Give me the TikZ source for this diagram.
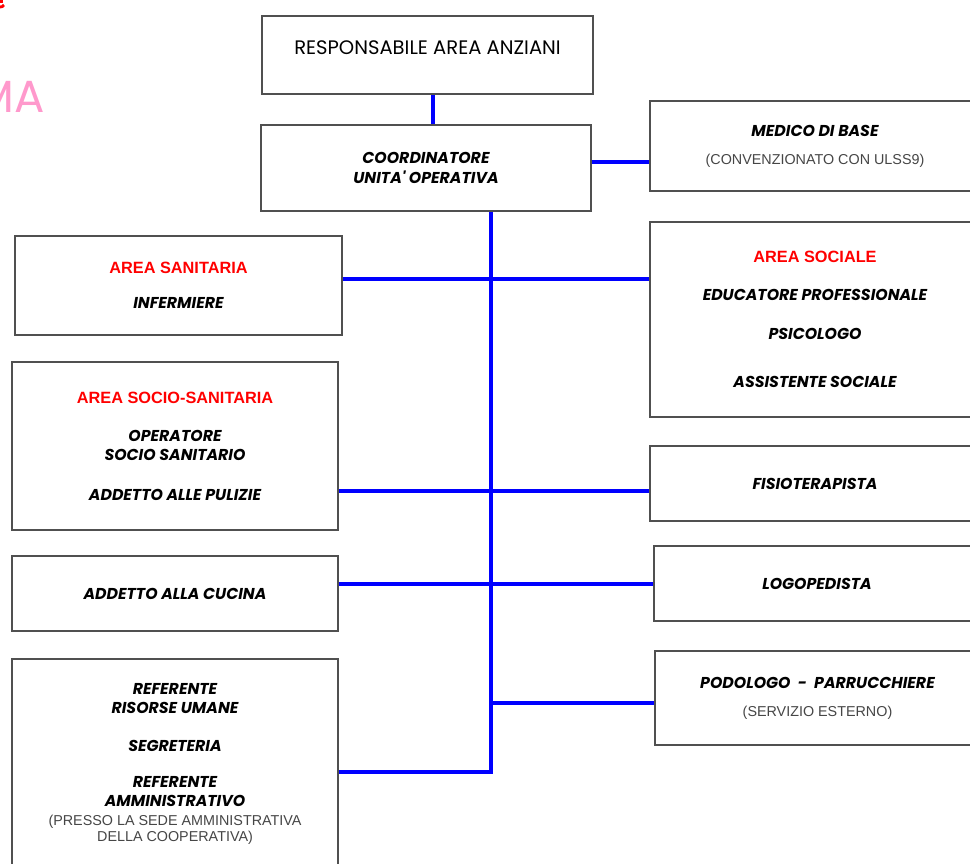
\documentclass[tikz,border=0pt]{standalone}
\usepackage{fontspec}
\setmainfont{Liberation Sans}
\newfontfamily\gothic{Poppins}
\usetikzlibrary{positioning}

\definecolor{linkblue}{RGB}{0,0,255}
\definecolor{boxgray}{RGB}{80,80,80}
\definecolor{notegray}{RGB}{70,70,70}
\definecolor{titlepink}{RGB}{255,153,204}

\newcommand{\ruolo}[1]{{\gothic\bfseries\itshape\fontsize{11.2}{14}\selectfont #1}}
\newcommand{\area}[1]{{\bfseries\color{red}\fontsize{11.6}{14}\selectfont #1}}
\newcommand{\nota}[1]{{\fontsize{10.2}{12}\selectfont\color{notegray}#1}}

\tikzset{
  box/.style={draw=boxgray, line width=0.9pt, fill=white, align=center, inner sep=0pt, font=\fontsize{10}{14}\selectfont},
  link/.style={draw=linkblue, line width=2.8pt},
}

\begin{document}
\begin{tikzpicture}[x=0.025cm, y=-0.025cm]
  \useasboundingbox (0,0) rectangle (970,863);

  % title fragments
  \node[text=titlepink, anchor=east, inner sep=0pt, font=\gothic\fontsize{32}{36}\selectfont] (titolo) at (45,97) {MA};
  \draw[red, line width=2pt] (0,1.5) -- (3,1.5);
  \draw[red, line width=2pt] (0,7) to[bend right] (4,5);

  % top
  \node[box, minimum width=8.275cm, minimum height=1.95cm, text depth=10pt] (resp) at (427.5,55) {\gothic\fontsize{13.9}{15}\selectfont RESPONSABILE AREA ANZIANI};
  \node[box, minimum width=8.25cm, minimum height=2.15cm] (coord) at (426,168) {\ruolo{COORDINATORE}\\\ruolo{UNITA' OPERATIVA}};

  % left column
  \node[box, minimum width=8.175cm, minimum height=2.475cm] (sanitaria) at (178.5,285.5) {\area{AREA SANITARIA}\\[11pt]\ruolo{INFERMIERE}};
  \node[box, minimum width=8.15cm, minimum height=4.2cm] (sociosan) at (175,446) {\area{AREA SOCIO-SANITARIA}\\[13pt]\ruolo{OPERATORE}\\\ruolo{SOCIO SANITARIO}\\[14pt]\ruolo{ADDETTO ALLE PULIZIE}};
  \node[box, minimum width=8.15cm, minimum height=1.875cm] (cucina) at (175,593.5) {\ruolo{ADDETTO ALLA CUCINA}};
  \node[box, minimum width=8.15cm, minimum height=5.25cm] (referente) at (175,764) {\ruolo{REFERENTE}\\\ruolo{RISORSE UMANE}\\[13pt]\ruolo{SEGRETERIA}\\[11pt]\ruolo{REFERENTE}\\\ruolo{AMMINISTRATIVO}\\[-1pt]\nota{(PRESSO LA SEDE AMMINISTRATIVA}\\[-2pt]\nota{DELLA COOPERATIVA)}};

  % right column
  \node[box, minimum width=8.25cm, minimum height=2.25cm] (medico) at (815,146) {\ruolo{MEDICO DI BASE}\\[6pt]\nota{(CONVENZIONATO CON ULSS9)}};
  \node[box, minimum width=8.25cm, minimum height=4.875cm] (sociale) at (815,319.5) {\area{AREA SOCIALE}\\[13pt]\ruolo{EDUCATORE PROFESSIONALE}\\[14pt]\ruolo{PSICOLOGO}\\[20pt]\ruolo{ASSISTENTE SOCIALE}};
  \node[box, minimum width=8.25cm, minimum height=1.875cm] (fisio) at (815,483.5) {\ruolo{FISIOTERAPISTA}};
  \node[box, minimum width=8.15cm, minimum height=1.875cm] (logo) at (817,583.5) {\ruolo{LOGOPEDISTA}};
  \node[box, minimum width=8.125cm, minimum height=2.35cm] (podologo) at (817.5,698) {\ruolo{PODOLOGO\ \ -\ \ PARRUCCHIERE}\\[6pt]\nota{(SERVIZIO ESTERNO)}};

  % links
  \coordinate (up) at (433,0);
  \coordinate (trunk) at (491,772);
  \draw[link] (resp.south -| up) -- (coord.north -| up);
  \draw[link] (coord.east |- 0,162) -- (medico.west |- 0,162);
  \draw[link] (coord.south -| trunk) -- (trunk) -- (referente.east |- trunk);
  \foreach \a/\b/\y in {sanitaria/sociale/279, sociosan/fisio/491, cucina/logo/584}
    \draw[link] (\a.east |- 0,\y) -- (\b.west |- 0,\y);
  \draw[link] (trunk |- 0,703) -- (podologo.west |- 0,703);
\end{tikzpicture}
\end{document}
